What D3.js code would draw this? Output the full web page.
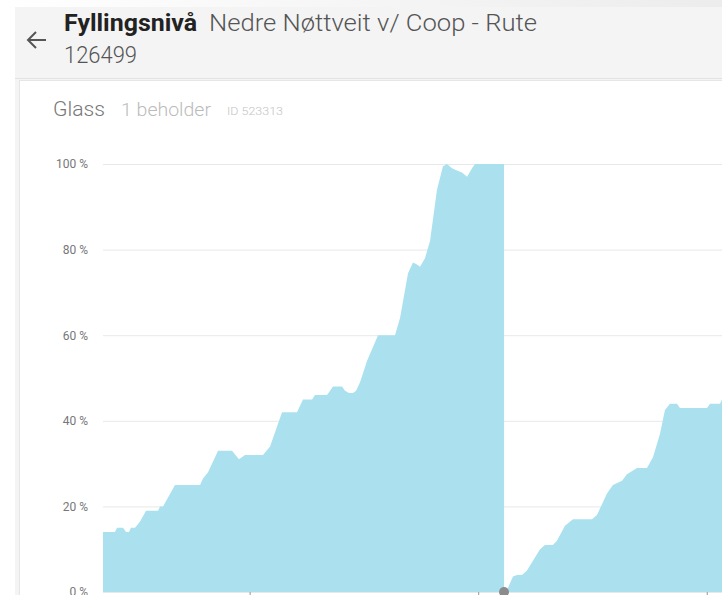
<!DOCTYPE html>
<html>
<head>
<meta charset="utf-8">
<script src="https://cdn.jsdelivr.net/npm/d3@7"></script>
<style>
  html, body { margin: 0; padding: 0; background: #fff; overflow: hidden; }
  svg { display: block; font-family: Roboto, "Noto Sans", sans-serif; }
</style>
</head>
<body>
<svg id="chart" width="722" height="595"></svg>
<script>
// ---- data (hours since start of view, fill level %) ----
const hours = [0, 1.26, 1.47, 2.10, 2.42, 2.73, 2.94, 3.36, 3.89, 4.52, 5.78, 5.99, 6.30, 7.56, 10.19, 10.50, 11.03, 12.08,
  13.55, 14.28, 14.91, 16.80, 17.54, 18.80, 20.37, 20.58, 21.00, 21.95, 22.26, 23.52, 23.84, 24.15, 25.10, 25.41, 25.83,
  26.25, 26.57, 26.99, 27.72, 28.88, 30.66, 31.19, 32.03, 32.55, 32.97, 33.29, 33.81, 34.34, 35.07, 35.70, 36.12, 36.65,
  37.17, 37.70, 38.23, 38.75, 39.06, 42.11, 42.12,
  42.21, 42.53, 43.05, 43.47, 44.00, 44.52, 45.89, 46.41, 47.25, 47.67, 48.51, 49.35, 51.35, 51.87, 52.92, 53.55, 54.50,
  55.02, 56.07, 57.12, 57.75, 58.49, 59.01, 59.54, 60.27, 60.59, 63.43, 63.74, 64.79, 65.00, 66.90];
const levels = [14, 14, 15, 15, 14, 14, 15, 15, 16.5, 19, 19, 20, 20, 25, 25, 26.5, 28, 33,
  33, 31, 32, 32, 34, 42, 42, 43, 45, 45, 46, 46, 47, 48, 48, 47, 46.5,
  46.5, 47, 49, 54, 60, 60, 64, 74.5, 77, 76.5, 76, 78, 82, 94, 99.5, 100, 99,
  98.5, 98, 97, 99, 100, 100, 0,
  0, 1, 3.6, 4, 4, 5, 10, 11, 11, 12, 15.5, 17, 17, 18, 23, 25, 26,
  27.5, 29, 29, 31.5, 37, 42.5, 44, 44, 43, 43, 44, 44, 45, 45];
const emptiedAt = [42.11];           // collection event (marker)
const yTicks = [0, 20, 40, 60, 80, 100];
const xTickHours = [15.4, 39.4, 63.4]; // midnights
const titleBold = "Fyllingsnivå";
const titleRest = "Nedre Nøttveit v/ Coop - Rute";
const titleLine2 = "126499";
const cardTitle = "Glass";
const cardSub = "1 beholder";
const cardId = "ID 523313";

const svg = d3.select("#chart");
const W = 722, H = 595;

// ---- page chrome ----
const defs = svg.append("defs");
const g1 = defs.append("linearGradient").attr("id", "topgrad").attr("x1", 0).attr("x2", 1);
g1.append("stop").attr("offset", "0%").attr("stop-color", "#ffffff");
g1.append("stop").attr("offset", "100%").attr("stop-color", "#ececec");
svg.append("rect").attr("x", 0).attr("y", 0).attr("width", W).attr("height", 7).attr("fill", "url(#topgrad)");
svg.append("rect").attr("x", 15).attr("y", 7).attr("width", W - 15).attr("height", H - 7).attr("fill", "#f4f4f4");
svg.append("line").attr("x1", 15).attr("x2", W).attr("y1", 78.5).attr("y2", 78.5).attr("stroke", "#e2e2e2");
svg.append("rect").attr("x", 19.5).attr("y", 80.5).attr("width", W - 19).attr("height", H - 80)
  .attr("fill", "#fff").attr("stroke", "#e6e6e6");

// back arrow
const arrow = svg.append("g").attr("stroke", "#555").attr("stroke-width", 2).attr("fill", "none");
arrow.append("path").attr("d", "M46,40 H28 M36,32 L28,40 L36,48");

// header texts
function fitText(x0, y0, size, weight, color, str, len) {
  return svg.append("text").attr("x", x0).attr("y", y0).attr("font-size", size)
    .attr("font-weight", weight).attr("fill", color).attr("textLength", len)
    .attr("lengthAdjust", "spacingAndGlyphs").text(str);
}
fitText(64, 31, 24, 700, "#222", titleBold, 133);
fitText(209, 31, 24, 300, "#555", titleRest, 328);
fitText(64, 63, 24, 300, "#555", titleLine2, 73);

fitText(53, 116, 20, 300, "#777", cardTitle, 52);
fitText(121, 116, 19, 300, "#bbbbbb", cardSub, 90);
fitText(227, 115, 11, 300, "#c4c4c4", cardId, 56);

// ---- chart ----
const plotLeft = 103, plotTop = 164, plotBottom = 592;
const x = d3.scaleLinear().domain([0, 65]).range([plotLeft, 722]);
const y = d3.scaleLinear().domain([0, 100]).range([plotBottom, plotTop]);

// gridlines
svg.append("g").attr("transform", `translate(${plotLeft},0)`)
  .call(d3.axisLeft(y).tickValues(yTicks).tickSize(-(W - plotLeft)).tickFormat(""))
  .call(g => g.select(".domain").remove())
  .call(g => g.selectAll("line").attr("stroke", "#e8e8e8"));

// y labels
svg.append("g").attr("transform", `translate(${plotLeft - 15},0)`)
  .call(d3.axisLeft(y).tickValues(yTicks).tickSize(0).tickPadding(0).tickFormat(d => d + " %"))
  .call(g => g.select(".domain").remove())
  .call(g => g.selectAll("text").attr("font-size", 12).attr("fill", "#777").attr("font-family", "Roboto, sans-serif"));

const data = hours.map((h, i) => ({ h, v: levels[i] }));
const area = d3.area().x(d => x(d.h)).y0(y(0)).y1(d => y(d.v)).curve(d3.curveLinear);
svg.append("path").datum(data).attr("d", area).attr("fill", "#abe1ef");

// x ticks
svg.append("g").attr("transform", `translate(0,${plotBottom})`)
  .call(d3.axisBottom(x).tickValues(xTickHours).tickSize(4).tickFormat(""))
  .call(g => g.select(".domain").remove())
  .call(g => g.selectAll("line").attr("stroke", "#999"));

// marker
svg.selectAll("circle.m").data(emptiedAt).join("circle")
  .attr("cx", d => x(d)).attr("cy", y(0)).attr("r", 5).attr("fill", "#8c8c8c");
</script>
</body>
</html>
